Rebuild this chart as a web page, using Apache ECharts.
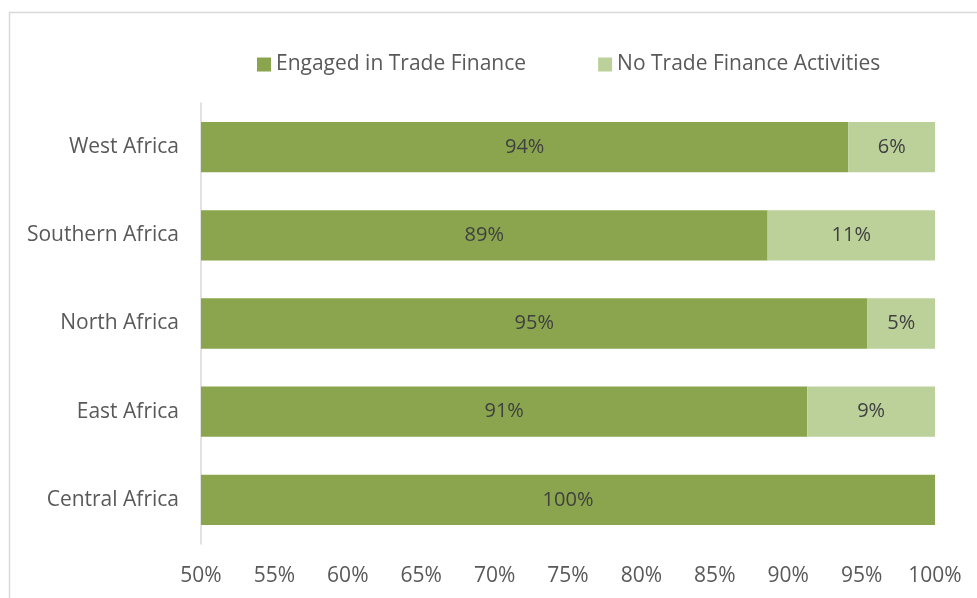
<!DOCTYPE html>
<html>
<head>
<meta charset="utf-8">
<script src="https://cdn.jsdelivr.net/npm/echarts@6/dist/echarts.min.js"></script>
<style>
  html, body { margin: 0; padding: 0; background: #fff; }
  #chart { width: 977px; height: 598px; }
</style>
</head>
<body>
<div id="chart"></div>
<script>
// regions, bottom to top as drawn on the category axis
const regions = ['Central Africa', 'East Africa', 'North Africa', 'Southern Africa', 'West Africa'];
const engaged = [100, 91.3, 95.4, 88.6, 94.1];
const noActivity = [0, 8.7, 4.6, 11.4, 5.9];
const xTicks = [50, 55, 60, 65, 70, 75, 80, 85, 90, 95, 100];

const font = '"Open Sans", sans-serif';
const chart = echarts.init(document.getElementById('chart'));

const pctLabel = (p) => (p.value > 0 ? Math.round(p.value) + '%' : '');

chart.setOption({
  animation: false,
  textStyle: { fontFamily: font },
  graphic: [{
    type: 'rect',
    shape: { x: 9.5, y: 12.5, width: 1000, height: 700 },
    style: { fill: 'none', stroke: '#d9d9d9', lineWidth: 1.5 },
    silent: true
  }],
  legend: {
    top: 49,
    left: 252,
    itemWidth: 14,
    itemHeight: 14,
    itemGap: 72,
    icon: 'rect',
    textStyle: { color: '#595959', fontSize: 21, fontFamily: font }
  },
  grid: { left: 201, right: 42, top: 103, bottom: 54 },
  xAxis: {
    type: 'value',
    min: xTicks[0],
    max: xTicks[xTicks.length - 1],
    interval: 5,
    axisLine: { show: false },
    axisTick: { show: false },
    splitLine: { show: false },
    axisLabel: {
      color: '#595959',
      fontSize: 21,
      fontFamily: font,
      margin: 22,
      formatter: (v) => v + '%'
    }
  },
  yAxis: {
    type: 'category',
    data: regions,
    axisLine: { show: true, lineStyle: { color: '#d9d9d9', width: 1.5 } },
    axisTick: { show: false },
    axisLabel: { color: '#595959', fontSize: 21, fontFamily: font, margin: 22 }
  },
  series: [
    {
      name: 'Engaged in Trade Finance',
      type: 'bar',
      stack: 'total',
      barWidth: '57%',
      data: engaged,
      itemStyle: { color: '#8aa54e' },
      label: { show: true, position: 'inside', color: '#404040', fontSize: 20, fontFamily: font, formatter: pctLabel }
    },
    {
      name: 'No Trade Finance Activities',
      type: 'bar',
      stack: 'total',
      data: noActivity,
      itemStyle: { color: '#bcd19a' },
      label: { show: true, position: 'inside', color: '#404040', fontSize: 20, fontFamily: font, formatter: pctLabel }
    }
  ]
});
</script>
</body>
</html>
